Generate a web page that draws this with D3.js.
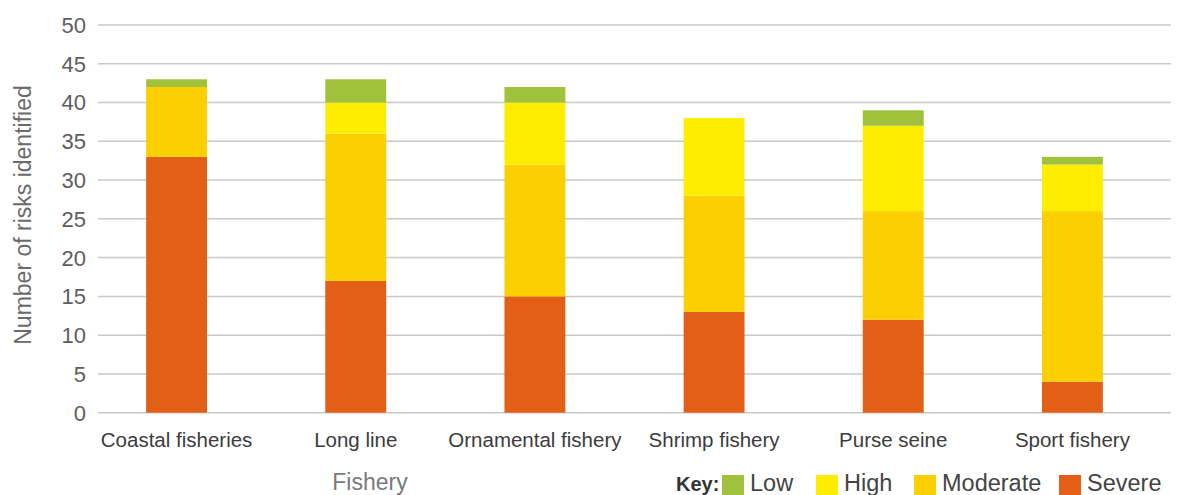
<!DOCTYPE html>
<html><head><meta charset="utf-8">
<script src="https://cdn.jsdelivr.net/npm/d3@7"></script>
<style>body{margin:0;background:#fff}svg{display:block}text{font-family:"Liberation Sans",Arial,sans-serif}</style>
</head><body>
<svg id="c" width="1184" height="495"></svg>
<script>
const categories = ["Coastal fisheries","Long line","Ornamental fishery","Shrimp fishery","Purse seine","Sport fishery"];
const severe   = [33,17,15,13,12,4];
const moderate = [9,19,17,15,14,22];
const high     = [0,4,8,10,11,6];
const low      = [1,3,2,0,2,1];
const seriesNames = ["Severe","Moderate","High","Low"];
const seriesColors = {Severe:"#E25F15",Moderate:"#FCD000",High:"#FFED00",Low:"#9FC13C"};
const legendOrder = ["Low","High","Moderate","Severe"];
const yTicks = [0,5,10,15,20,25,30,35,40,45,50];

const rows = categories.map((c,i)=>({cat:c,Severe:severe[i],Moderate:moderate[i],High:high[i],Low:low[i]}));
const svg = d3.select("#c");
const x = d3.scaleBand().domain(categories).range([87,1162]).paddingInner(0.66).paddingOuter(0.33);
const y = d3.scaleLinear().domain([0,50]).range([412.7,25]);

svg.append("g").selectAll("line").data(yTicks).join("line")
  .attr("x1",98).attr("x2",1171).attr("y1",d=>y(d)).attr("y2",d=>y(d))
  .attr("stroke","#c9c9c9").attr("stroke-width",1.5);
svg.append("g").selectAll("text").data(yTicks).join("text")
  .attr("x",86).attr("y",d=>y(d)).attr("dy","0.36em").attr("text-anchor","end")
  .attr("font-size",22).attr("fill","#5e5e5e").text(d=>d);

const stack = d3.stack().keys(seriesNames)(rows);
svg.append("g").selectAll("g").data(stack).join("g").attr("fill",d=>seriesColors[d.key])
  .selectAll("rect").data(d=>d).join("rect")
  .attr("x",d=>x(d.data.cat)).attr("width",x.bandwidth())
  .attr("y",d=>y(d[1])).attr("height",d=>y(d[0])-y(d[1]));

svg.append("g").selectAll("text").data(categories).join("text")
  .attr("x",d=>x(d)+x.bandwidth()/2).attr("y",447).attr("text-anchor","middle")
  .attr("font-size",20.5).attr("fill","#3c3c3c").text(d=>d);

svg.append("text").attr("transform","translate(31,215) rotate(-90)").attr("text-anchor","middle")
  .attr("font-size",23).attr("fill","#6a6a6a").text("Number of risks identified");
svg.append("text").attr("x",370).attr("y",490).attr("text-anchor","middle")
  .attr("font-size",23).attr("fill","#7a7a7a").text("Fishery");

const lg = svg.append("g");
lg.append("text").attr("x",676).attr("y",491).attr("font-size",20).attr("font-weight","bold").attr("fill","#333").text("Key:");
const lx = [722,816,914,1059];
legendOrder.forEach((k,i)=>{
  lg.append("rect").attr("x",lx[i]).attr("y",475).attr("width",22).attr("height",20).attr("fill",seriesColors[k]);
  lg.append("text").attr("x",lx[i]+28).attr("y",491).attr("font-size",23.5).attr("fill","#444").text(k);
});
</script>
</body></html>
